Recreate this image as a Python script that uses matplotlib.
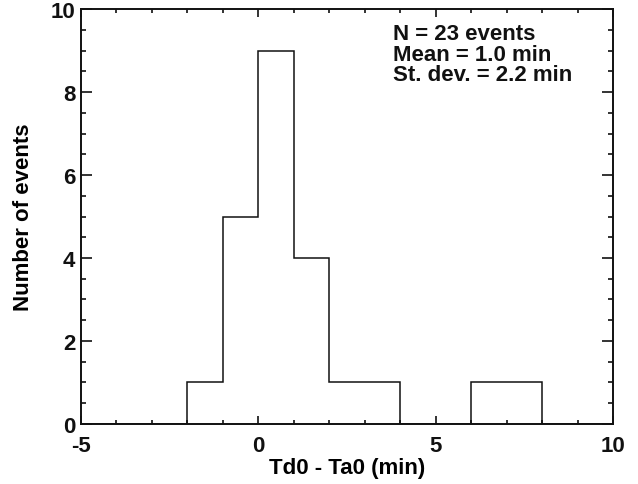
import matplotlib
matplotlib.use("Agg")
import matplotlib.pyplot as plt
from matplotlib.ticker import MultipleLocator

bin_edges = [-5, -4, -3, -2, -1, 0, 1, 2, 3, 4, 5, 6, 7, 8, 9, 10]
counts = [0, 0, 0, 1, 5, 9, 4, 1, 1, 0, 0, 1, 1, 0, 0]
stats_lines = ["N = 23 events", "Mean = 1.0 min", "St. dev. = 2.2 min"]

plt.rcParams['font.family'] = ['Liberation Sans', 'DejaVu Sans']
plt.rcParams['font.weight'] = 'bold'
plt.rcParams['axes.unicode_minus'] = False

FS = 16
fig = plt.figure(figsize=(6.38, 4.85), dpi=100)
ax = fig.add_axes([0.127, 0.124, 0.834, 0.855])
ax.stairs(counts, bin_edges, color='#111111', linewidth=1.1)
ax.set_xlim(-5, 10)
ax.set_ylim(0, 10)
ax.xaxis.set_major_locator(MultipleLocator(5))
ax.xaxis.set_minor_locator(MultipleLocator(1))
ax.yaxis.set_major_locator(MultipleLocator(2))
ax.yaxis.set_minor_locator(MultipleLocator(0.5))
ax.tick_params(which='both', direction='in', top=True, right=True, width=1.2, colors='#111111')
ax.tick_params(axis='x', which='major', length=6, labelsize=FS, pad=8)
ax.tick_params(axis='x', which='minor', length=3)
ax.tick_params(axis='y', which='major', length=8, labelsize=FS, pad=4)
ax.tick_params(axis='y', which='minor', length=3.6)
for lab in ax.get_xticklabels() + ax.get_yticklabels():
    lab.set_fontweight('bold')
for s in ax.spines.values():
    s.set_linewidth(1.4)
    s.set_color('#111111')
ax.set_xlabel("Td0 - Ta0 (min)", fontsize=FS, fontweight='bold', labelpad=1)
ax.set_ylabel("Number of events", fontsize=FS, fontweight='bold', labelpad=12)
ax.text(0.586, 0.966, "\n".join(stats_lines), transform=ax.transAxes, ha='left', va='top',
        fontsize=FS, fontweight='bold', linespacing=0.97, color='#111111')
fig.savefig("out.png", dpi=100)
